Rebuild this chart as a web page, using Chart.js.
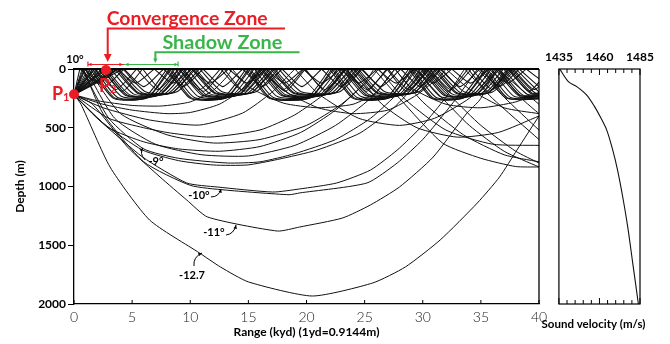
<!DOCTYPE html>
<html>
<head>
<meta charset="utf-8">
<script src="https://cdn.jsdelivr.net/npm/chart.js@4/dist/chart.umd.min.js"></script>
<style>
  html, body { margin: 0; padding: 0; background: #fff; }
  #wrap { position: relative; width: 670px; height: 344px; overflow: hidden; }
  #main { position: absolute; left: 0; top: 0; }
  #svp { position: absolute; left: 540px; top: 0; }
</style>
</head>
<body>
<div id="wrap">
  <canvas id="main" width="560" height="344"></canvas>
  <canvas id="svp" width="130" height="344"></canvas>
</div>
<script>
// ---- axis ticks ----
const rangeTicks = [0, 5, 10, 15, 20, 25, 30, 35, 40];
const depthTicks = [0, 500, 1000, 1500, 2000];
const velTicks = [1435, 1460, 1485];
const velMinor = [1435, 1440, 1445, 1450, 1455, 1460, 1465, 1470, 1475, 1480, 1485];

// ---- deep rays [range kyd, depth m] ----
const ray127 = [[0,220],[0.6,300],[3.1,834],[6.5,1285],[10.8,1566],[12.6,1685],[15,1812],[20.5,1932],[25.7,1821],[28.5,1685],[31.5,1455],[34.7,1140],[36.6,920],[38.1,690],[40,400]];
const ray11 = [[0,220],[1.6,300],[4.6,664],[7.4,919],[9.7,1115],[11.5,1260],[17.5,1379],[19.4,1345],[23.1,1268],[25.5,1157],[28,1004],[30.9,749],[33.8,375],[34.9,264],[35.8,100],[36.4,0],[40,300]];
const ray10a = [[0,220],[2,420],[5.9,749],[9.7,970],[12.3,1004],[17.1,1047],[19.4,1021],[22.6,970],[25.5,860],[27.8,690],[30,480],[32,240],[33.2,60],[33.6,0],[36,250],[40,600]];
const ray10b = [[0,220],[0.8,0],[2.5,380],[6,790],[10,990],[13,1030],[18.5,1070],[19.4,1055],[25.2,970],[27.8,800],[30,600],[32.5,300],[34,100],[34.7,0],[37,240],[40,520]];
const ray9a = [[0,220],[2.5,460],[5.9,690],[9,780],[12,817],[14.9,817],[17.5,770],[20.9,690],[24.6,545],[27.5,330],[29.5,120],[30.3,0],[32.5,240],[35,480],[38,700],[40,800]];
const ray9b = [[0,220],[0.7,0],[3,420],[6,680],[9,760],[13.2,800],[16,790],[19,720],[22.5,600],[25.5,420],[28,190],[29.3,0],[31.5,230],[34,480],[37,700],[40,834]];
const ray8 = [[0,220],[3,500],[6,620],[9,680],[12.5,700],[16,660],[19.5,540],[22.5,350],[25,120],[25.8,0],[28,250],[31.7,630],[35,760],[38,830],[40,834]];
const ray8r = [[0,220],[1.0,0],[3.5,420],[7,640],[11,730],[15,740],[19,650],[22.5,480],[25.5,250],[27.3,40],[27.6,0],[30,280],[33.5,560],[37,730],[40,790]];
const ray7 = [[0,220],[3,420],[6,500],[8.3,545],[11.7,579],[16,519],[19,390],[22,180],[24,0],[26.5,300],[29.5,500],[33,580],[36.5,540],[40,400]];
const ray7r = [[0,220],[1.2,0],[4,380],[8,560],[12,630],[16,600],[20,480],[23,300],[25.5,80],[26.2,0],[28.5,260],[32,520],[36,640],[40,650]];
const ray6 = [[0,220],[2.5,330],[6.5,434],[10.8,477],[14.5,375],[17,200],[18.5,50],[19,0],[21,210],[24.5,420],[28,480],[31,420],[34,250],[36,50],[36.4,0],[38.5,250],[40,380]];
const ray5 = [[0,220],[2.5,300],[5,350],[8,380],[10,370],[12.5,300],[14.5,170],[16,0],[18,180],[21,330],[24,380],[27,350],[29.5,220],[31.5,60],[32,0],[34,170],[37,330],[40,380]];
const ray4 = [[0,220],[2,270],[5,310],[7.5,315],[10,280],[12,180],[13.2,60],[13.6,0],[15,150],[18,290],[21,330],[24,300],[26,200],[27.2,50],[27.6,0],[29,160],[32,300],[35,330],[38,280],[40,200]];

// ---- surface duct rays ----
const duct1 = [[0,220],[1.4,0],[3.4,250],[6.0,250],[8.0,0],[10.0,250],[12.8,250],[14.8,0],[16.8,250],[20.0,250],[22.0,0],[24.0,250],[26.8,250],[28.8,0],[30.8,250],[33.2,250],[35.2,0],[37.2,250],[41,250]];
const duct2 = [[0,220],[1.75,0],[3.75,242],[6.35,242],[8.35,0],[10.35,242],[13.15,242],[15.15,0],[17.15,242],[20.35,242],[22.35,0],[24.35,242],[27.15,242],[29.15,0],[31.15,242],[33.55,242],[35.55,0],[37.55,242],[41,242]];
const duct3 = [[0,220],[2.1,0],[4.1,234],[6.7,234],[8.7,0],[10.7,234],[13.5,234],[15.5,0],[17.5,234],[20.7,234],[22.7,0],[24.7,234],[27.5,234],[29.5,0],[31.5,234],[33.9,234],[35.9,0],[37.9,234],[41,234]];
const duct4 = [[0,220],[2.45,0],[4.45,226],[7.05,226],[9.05,0],[11.05,226],[13.85,226],[15.85,0],[17.85,226],[21.05,226],[23.05,0],[25.05,226],[27.85,226],[29.85,0],[31.85,226],[34.25,226],[36.25,0],[38.25,226],[41,226]];
const duct5 = [[0,220],[2.8,0],[4.8,220],[7.4,220],[9.4,0],[11.4,220],[14.2,220],[16.2,0],[18.2,220],[21.4,220],[23.4,0],[25.4,220],[28.2,220],[30.2,0],[32.2,220],[34.6,220],[36.6,0],[38.6,220],[41,220]];
const duct6 = [[0,220],[3.15,0],[5.15,214],[7.75,214],[9.75,0],[11.75,214],[14.55,214],[16.55,0],[18.55,214],[21.75,214],[23.75,0],[25.75,214],[28.55,214],[30.55,0],[32.55,214],[34.95,214],[36.95,0],[38.95,214],[41,214]];
const duct7 = [[0,220],[3.5,0],[5.5,208],[8.1,208],[10.1,0],[12.1,208],[14.9,208],[16.9,0],[18.9,208],[22.1,208],[24.1,0],[26.1,208],[28.9,208],[30.9,0],[32.9,208],[35.3,208],[37.3,0],[39.3,208],[41,208]];
const duct8 = [[0,220],[3.85,0],[5.85,202],[8.45,202],[10.45,0],[12.45,202],[15.25,202],[17.25,0],[19.25,202],[22.45,202],[24.45,0],[26.45,202],[29.25,202],[31.25,0],[33.25,202],[35.65,202],[37.65,0],[39.65,202],[41,202]];
const duct9 = [[0,220],[4.2,0],[6.2,196],[8.8,196],[10.8,0],[12.8,196],[15.6,196],[17.6,0],[19.6,196],[22.8,196],[24.8,0],[26.8,196],[29.6,196],[31.6,0],[33.6,196],[36.0,196],[38.0,0],[40,196]];
const duct10 = [[0,220],[1.6,0],[3.5,246],[6.3,246],[8.2,0],[10.1,246],[13.1,246],[15.0,0],[16.9,246],[20.3,246],[22.2,0],[24.1,246],[27.1,246],[29.0,0],[30.9,246],[33.5,246],[35.4,0],[37.3,246],[41,246]];
const duct11 = [[0,220],[2.65,0],[4.6,223],[7.3,223],[9.25,0],[11.2,223],[14.1,223],[16.05,0],[18.0,223],[21.3,223],[23.25,0],[25.2,223],[28.1,223],[30.05,0],[32.0,223],[34.5,223],[36.45,0],[38.4,223],[41,223]];
const duct12 = [[0,220],[3.7,0],[5.6,205],[8.4,205],[10.3,0],[12.2,205],[15.2,205],[17.1,0],[19.0,205],[22.4,205],[24.3,0],[26.2,205],[29.2,205],[31.1,0],[33.0,205],[35.6,205],[37.5,0],[39.4,205],[41,205]];
const short1 = [[0,220],[0.9,0],[2.6,150],[4.3,0],[6.0,150],[7.7,0],[9.4,150],[11.1,0],[12.8,150],[14.5,0],[16.2,150],[17.9,0],[19.6,150],[21.3,0],[23.0,150],[24.7,0],[26.4,150],[28.1,0],[29.8,150],[31.5,0],[33.2,150],[34.9,0],[36.6,150],[38.3,0],[40,150]];
const short2 = [[0,220],[1.8,0],[3.6,175],[5.4,0],[7.2,175],[9.0,0],[10.8,175],[12.6,0],[14.4,175],[16.2,0],[18.0,175],[19.8,0],[21.6,175],[23.4,0],[25.2,175],[27.0,0],[28.8,175],[30.6,0],[32.4,175],[34.2,0],[36.0,175],[37.8,0],[39.6,175],[41.4,0]];
const short3 = [[0,220],[0.5,0],[2.1,120],[3.7,0],[5.3,120],[6.9,0],[8.5,120],[10.1,0],[11.7,120],[13.3,0],[14.9,120],[16.5,0],[18.1,120],[19.7,0],[21.3,120],[22.9,0],[24.5,120],[26.1,0],[27.7,120],[29.3,0],[30.9,120],[32.5,0],[34.1,120],[35.7,0],[37.3,120],[38.9,0],[40.5,120]];
const short4 = [[0,220],[2.4,0],[4.15,190],[5.9,0],[7.65,190],[9.4,0],[11.15,190],[12.9,0],[14.65,190],[16.4,0],[18.15,190],[19.9,0],[21.65,190],[23.4,0],[25.15,190],[26.9,0],[28.65,190],[30.4,0],[32.15,190],[33.9,0],[35.65,190],[37.4,0],[39.15,190],[40.9,0]];

// ---- sound velocity profile ----
const svVel = [1435.5, 1441, 1446, 1452, 1457, 1461, 1464.5, 1468, 1471, 1474.5, 1477.5, 1480.5, 1484];
const svDepth = [0, 110, 150, 220, 320, 420, 520, 680, 850, 1100, 1350, 1650, 2000];

// ---- annotations (range, depth) ----
const angleText = ['-9°', '-10°', '-11°', '-12.7'];
const angleAt = [[7.05,783],[10.75,1072],[12.04,1387],[10.15,1753]];
const angleArc = [
  [[6.11,774],[5.59,715],[5.94,672]],
  [[11.78,1089],[12.47,1089],[12.65,1021]],
  [[13.08,1413],[13.76,1404],[13.94,1328]],
  [[10.32,1677],[10.24,1600],[11.01,1566]]
];
const p1 = [0, 215];
const p2 = [2.75, 8];
const convSpan = [1.2, 4.3];
const shadowSpan = [4.3, 8.95];
const convArrowR = 2.9, convLineEnd = 18.15;
const shadowArrowR = 7.0, shadowLineEnd = 19.4;

const RED = '#ec1c24', GREEN = '#39b54a';

function toPoints(ray) {
  // surface reflections are repeated so the spline keeps a sharp corner there
  const out = [];
  ray.forEach(([r, d]) => {
    out.push({ x: r, y: d });
    if (d === 0) out.push({ x: r, y: d });
  });
  return out;
}

const deepRays = [ray127, ray11, ray10a, ray10b, ray9a, ray9b, ray8, ray8r, ray7, ray7r, ray6, ray5, ray4];
const ductRays = [duct1, duct2, duct3, duct4, duct5, duct6, duct7, duct8, duct9, duct10, duct11, duct12,
                  short1, short2, short3, short4];

const datasets = [
  ...deepRays.map(r => ({ data: toPoints(r), tension: 0.2, borderWidth: 1 })),
  ...ductRays.map(r => ({ data: toPoints(r), tension: 0.2, borderWidth: 1.05 }))
].map(d => Object.assign(d, { showLine: true, borderColor: '#111', pointRadius: 0 }));

const plain = v => String(v);

function arrowHead(ctx, x, y, ang, size) {
  ctx.beginPath();
  ctx.moveTo(x, y);
  ctx.lineTo(x - size * Math.cos(ang - 0.45), y - size * Math.sin(ang - 0.45));
  ctx.lineTo(x - size * Math.cos(ang + 0.45), y - size * Math.sin(ang + 0.45));
  ctx.closePath();
  ctx.fill();
}

function fitText(ctx, text, x, y, width, size, font) {
  ctx.font = `bold ${size}px ${font}`;
  const w = ctx.measureText(text).width;
  ctx.save();
  ctx.translate(x, y);
  ctx.scale(width / w, 1);
  ctx.fillText(text, 0, 0);
  ctx.restore();
}

const decor = {
  id: 'decor',
  afterDraw(chart) {
    const { ctx, chartArea: a, scales: { x, y } } = chart;
    const px = v => x.getPixelForValue(v);
    const py = v => y.getPixelForValue(v);
    ctx.save();
    // frame
    ctx.strokeStyle = '#000';
    ctx.lineWidth = 1.3;
    ctx.beginPath(); ctx.moveTo(a.right, a.top); ctx.lineTo(a.right, a.bottom); ctx.stroke();
    ctx.lineWidth = 2.2;
    ctx.beginPath(); ctx.moveTo(a.left, a.top); ctx.lineTo(a.right, a.top); ctx.stroke();
    ctx.lineWidth = 1;
    rangeTicks.forEach(t => {
      ctx.beginPath(); ctx.moveTo(px(t), a.bottom); ctx.lineTo(px(t), a.bottom - 4); ctx.stroke();
    });

    // angle labels
    ctx.fillStyle = '#000';
    ctx.font = 'bold 11px Lato';
    ctx.textAlign = 'center';
    ctx.textBaseline = 'middle';
    angleText.forEach((t, i) => {
      ctx.fillText(t, px(angleAt[i][0]), py(angleAt[i][1]));
      const [s, c, e] = angleArc[i];
      ctx.lineWidth = 1;
      ctx.beginPath();
      ctx.moveTo(px(s[0]), py(s[1]));
      ctx.quadraticCurveTo(px(c[0]), py(c[1]), px(e[0]), py(e[1]));
      ctx.stroke();
      const ang = Math.atan2(py(e[1]) - py(c[1]), px(e[0]) - px(c[0]));
      arrowHead(ctx, px(e[0]), py(e[1]), ang, 4);
    });
    ctx.fillText('10°', px(0) + 1, a.top - 10);

    // convergence zone callout
    ctx.textAlign = 'left';
    ctx.textBaseline = 'alphabetic';
    ctx.fillStyle = RED;
    ctx.strokeStyle = RED;
    fitText(ctx, 'Convergence Zone', px(convArrowR) - 1, a.top - 44, 161, 19, 'Lato');
    ctx.lineWidth = 2;
    ctx.beginPath();
    ctx.moveTo(px(convLineEnd), a.top - 40.5);
    ctx.lineTo(px(convArrowR), a.top - 40.5);
    ctx.lineTo(px(convArrowR), a.top - 14);
    ctx.stroke();
    arrowHead(ctx, px(convArrowR), a.top - 7, Math.PI / 2, 9);
    // convergence span
    ctx.lineWidth = 1.2;
    const yS = a.top - 4.5;
    ctx.beginPath(); ctx.moveTo(px(convSpan[0]), yS); ctx.lineTo(px(convSpan[1]), yS); ctx.stroke();
    ctx.beginPath(); ctx.moveTo(px(convSpan[0]), yS - 3); ctx.lineTo(px(convSpan[0]), yS + 2); ctx.stroke();
    arrowHead(ctx, px(convSpan[0]), yS, Math.PI, 4);
    arrowHead(ctx, px(convSpan[1]) - 1, yS, 0, 4);

    // shadow zone callout
    ctx.fillStyle = GREEN;
    ctx.strokeStyle = GREEN;
    fitText(ctx, 'Shadow Zone', px(shadowArrowR) + 7, a.top - 20.5, 120, 18, 'Lato');
    ctx.lineWidth = 2;
    ctx.beginPath();
    ctx.moveTo(px(shadowLineEnd), a.top - 16.7);
    ctx.lineTo(px(shadowArrowR), a.top - 16.7);
    ctx.lineTo(px(shadowArrowR), a.top - 10);
    ctx.stroke();
    arrowHead(ctx, px(shadowArrowR), a.top - 6, Math.PI / 2, 5);
    ctx.lineWidth = 1.2;
    ctx.beginPath(); ctx.moveTo(px(shadowSpan[0]), yS); ctx.lineTo(px(shadowSpan[1]), yS); ctx.stroke();
    ctx.beginPath(); ctx.moveTo(px(shadowSpan[1]), yS - 3); ctx.lineTo(px(shadowSpan[1]), yS + 2); ctx.stroke();
    arrowHead(ctx, px(shadowSpan[0]) + 1, yS, Math.PI, 4);
    arrowHead(ctx, px(shadowSpan[1]), yS, 0, 4);

    // source and receiver points
    ctx.fillStyle = RED;
    [p1, p2].forEach(p => {
      ctx.beginPath(); ctx.arc(px(p[0]), py(p[1]), 5, 0, Math.PI * 2); ctx.fill();
    });
    ctx.font = 'bold 18px Lato';
    ctx.fillText('P', px(p1[0]) - 22, py(p1[1]) + 6);
    ctx.fillText('P', px(p2[0]) - 7, py(p2[1]) + 22);
    ctx.font = 'bold 11px Lato';
    ctx.fillText('1', px(p1[0]) - 11, py(p1[1]) + 7);
    ctx.fillText('2', px(p2[0]) + 4, py(p2[1]) + 23);
    ctx.restore();
  }
};

new Chart(document.getElementById('main'), {
  type: 'scatter',
  data: { datasets },
  options: {
    responsive: false,
    animation: false,
    layout: { padding: { left: 0, right: 21, top: 69, bottom: 0 } },
    plugins: { legend: { display: false }, tooltip: { enabled: false } },
    scales: {
      x: {
        type: 'linear', min: 0, max: 40,
        afterFit: s => { s.height = 40; },
        afterBuildTicks: s => { s.ticks = rangeTicks.map(v => ({ value: v })); },
        ticks: { callback: plain, font: { family: 'Lato', size: 14, weight: 300 }, color: '#222',
                 padding: 5, maxRotation: 0, autoSkip: false },
        grid: { drawOnChartArea: false, drawTicks: false },
        border: { color: '#000', width: 1.3 },
        title: { display: true, text: 'Range (kyd) (1yd=0.9144m)', color: '#000',
                 font: { family: 'Lato', size: 12, weight: 'bold' }, padding: { top: 0, bottom: 5 } }
      },
      y: {
        reverse: true, min: 0, max: 2000,
        afterFit: s => { s.width = 74; },
        afterBuildTicks: s => { s.ticks = depthTicks.map(v => ({ value: v })); },
        ticks: { callback: plain, font: { family: 'Lato', size: 12, weight: 'bold' }, color: '#000', padding: 2 },
        grid: { drawOnChartArea: false, drawTicks: true, tickLength: 6, color: '#000' },
        border: { color: '#000', width: 1.3 },
        title: { display: true, text: 'Depth (m)', color: '#000',
                 font: { family: 'Lato', size: 12, weight: 'bold' }, padding: { top: 13, bottom: 0 } }
      }
    }
  },
  plugins: [decor]
});

const svFrame = {
  id: 'svFrame',
  afterDraw(chart) {
    const { ctx, chartArea: a, scales: { x } } = chart;
    ctx.save();
    ctx.strokeStyle = '#000';
    ctx.lineWidth = 1.2;
    ctx.strokeRect(a.left, a.top, a.right - a.left, a.bottom - a.top);
    ctx.lineWidth = 1;
    velMinor.forEach(v => {
      const len = velTicks.includes(v) ? 6 : 4;
      const xx = x.getPixelForValue(v);
      ctx.beginPath(); ctx.moveTo(xx, a.top); ctx.lineTo(xx, a.top + len); ctx.stroke();
      ctx.beginPath(); ctx.moveTo(xx, a.bottom); ctx.lineTo(xx, a.bottom - len); ctx.stroke();
    });
    ctx.fillStyle = '#000';
    ctx.font = 'bold 11.5px Lato';
    ctx.textAlign = 'center';
    ctx.textBaseline = 'alphabetic';
    ctx.fillText('Sound velocity (m/s)', (a.left + a.right) / 2 - 6, a.bottom + 24);
    ctx.restore();
  }
};

new Chart(document.getElementById('svp'), {
  type: 'scatter',
  data: {
    datasets: [{
      data: svVel.map((v, i) => ({ x: v, y: svDepth[i] })),
      showLine: true, borderColor: '#111', borderWidth: 1.1, pointRadius: 0, tension: 0.3
    }]
  },
  options: {
    responsive: false,
    animation: false,
    layout: { padding: { left: 12, right: 30, top: 0, bottom: 40 } },
    plugins: { legend: { display: false }, tooltip: { enabled: false } },
    scales: {
      x: {
        type: 'linear', position: 'top', min: 1435, max: 1485,
        afterFit: s => { s.height = 69; },
        afterBuildTicks: s => { s.ticks = velTicks.map(v => ({ value: v })); },
        ticks: { callback: plain, font: { family: 'Lato', size: 12, weight: 'bold' }, color: '#000',
                 padding: 5, maxRotation: 0, autoSkip: false },
        grid: { drawOnChartArea: false, drawTicks: false },
        border: { display: false }
      },
      y: { display: false, reverse: true, min: 0, max: 2000 }
    }
  },
  plugins: [svFrame]
});
</script>
</body>
</html>
